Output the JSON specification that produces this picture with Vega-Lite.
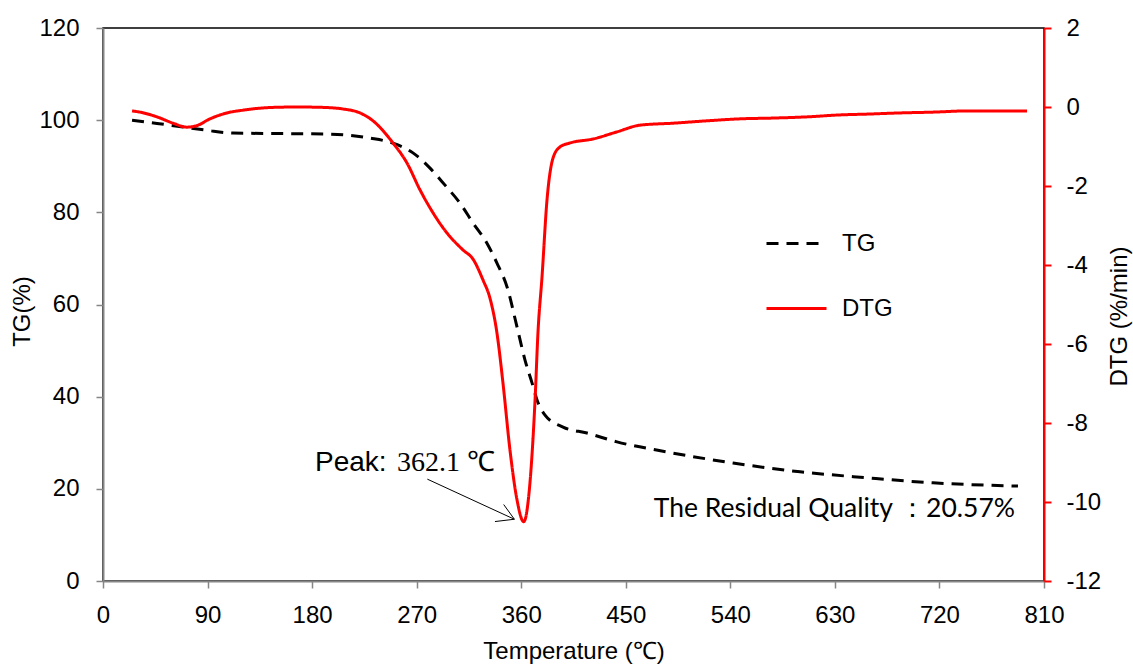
{
  "$schema": "https://vega.github.io/schema/vega-lite/v6.json",
  "width": 941,
  "height": 553,
  "autosize": {"type": "none"},
  "padding": {"left": 103, "top": 28, "right": 89, "bottom": 83},
  "background": "white",
  "config": {
    "view": {"stroke": "black", "strokeWidth": 1.5},
    "font": "Liberation Sans",
    "axis": {
      "labelFont": "Liberation Sans",
      "titleFont": "Liberation Sans",
      "labelFontSize": 24,
      "titleFontSize": 24,
      "titleFontWeight": "normal",
      "labelColor": "black",
      "titleColor": "black",
      "grid": false
    }
  },
  "datasets": {
    "curves": [
      {"series": "TG", "T": 25.0, "v": 100.0},
      {"series": "TG", "T": 46.5, "v": 99.3},
      {"series": "TG", "T": 68.9, "v": 98.5},
      {"series": "TG", "T": 89.5, "v": 97.8},
      {"series": "TG", "T": 111.9, "v": 97.2},
      {"series": "TG", "T": 146.3, "v": 97.1},
      {"series": "TG", "T": 189.4, "v": 97.0},
      {"series": "TG", "T": 212.6, "v": 96.7},
      {"series": "TG", "T": 229.8, "v": 96.1},
      {"series": "TG", "T": 249.6, "v": 95.0},
      {"series": "TG", "T": 266.8, "v": 92.9},
      {"series": "TG", "T": 281.5, "v": 89.6},
      {"series": "TG", "T": 294.4, "v": 85.9},
      {"series": "TG", "T": 307.3, "v": 82.0},
      {"series": "TG", "T": 318.5, "v": 77.7},
      {"series": "TG", "T": 330.5, "v": 73.3},
      {"series": "TG", "T": 339.1, "v": 69.0},
      {"series": "TG", "T": 347.8, "v": 63.8},
      {"series": "TG", "T": 356.4, "v": 55.1},
      {"series": "TG", "T": 363.2, "v": 48.0},
      {"series": "TG", "T": 369.3, "v": 43.0},
      {"series": "TG", "T": 373.6, "v": 39.3},
      {"series": "TG", "T": 380.5, "v": 36.0},
      {"series": "TG", "T": 396.0, "v": 33.4},
      {"series": "TG", "T": 416.6, "v": 32.1},
      {"series": "TG", "T": 442.4, "v": 30.2},
      {"series": "TG", "T": 485.5, "v": 28.0},
      {"series": "TG", "T": 542.3, "v": 25.6},
      {"series": "TG", "T": 600.0, "v": 23.7},
      {"series": "TG", "T": 657.6, "v": 22.4},
      {"series": "TG", "T": 714.4, "v": 21.3},
      {"series": "TG", "T": 787.6, "v": 20.6},
      {"series": "DTG", "T": 25.0, "v": -0.10},
      {"series": "DTG", "T": 31.8, "v": -0.13},
      {"series": "DTG", "T": 46.5, "v": -0.25},
      {"series": "DTG", "T": 60.3, "v": -0.41},
      {"series": "DTG", "T": 72.3, "v": -0.51},
      {"series": "DTG", "T": 80.9, "v": -0.47},
      {"series": "DTG", "T": 92.1, "v": -0.30},
      {"series": "DTG", "T": 106.7, "v": -0.15},
      {"series": "DTG", "T": 120.5, "v": -0.08},
      {"series": "DTG", "T": 146.3, "v": -0.01},
      {"series": "DTG", "T": 167.0, "v": 0.0},
      {"series": "DTG", "T": 189.4, "v": -0.01},
      {"series": "DTG", "T": 206.6, "v": -0.05},
      {"series": "DTG", "T": 221.2, "v": -0.15},
      {"series": "DTG", "T": 232.4, "v": -0.35},
      {"series": "DTG", "T": 249.6, "v": -0.91},
      {"series": "DTG", "T": 261.7, "v": -1.42},
      {"series": "DTG", "T": 272.9, "v": -2.10},
      {"series": "DTG", "T": 284.1, "v": -2.68},
      {"series": "DTG", "T": 296.1, "v": -3.19},
      {"series": "DTG", "T": 309.9, "v": -3.62},
      {"series": "DTG", "T": 318.5, "v": -3.85},
      {"series": "DTG", "T": 327.1, "v": -4.38},
      {"series": "DTG", "T": 333.1, "v": -4.84},
      {"series": "DTG", "T": 339.1, "v": -5.72},
      {"series": "DTG", "T": 344.3, "v": -6.99},
      {"series": "DTG", "T": 350.3, "v": -8.68},
      {"series": "DTG", "T": 356.4, "v": -9.95},
      {"series": "DTG", "T": 362.1, "v": -10.5},
      {"series": "DTG", "T": 367.5, "v": -9.52},
      {"series": "DTG", "T": 371.9, "v": -7.42},
      {"series": "DTG", "T": 374.4, "v": -5.72},
      {"series": "DTG", "T": 377.9, "v": -4.30},
      {"series": "DTG", "T": 382.2, "v": -2.35},
      {"series": "DTG", "T": 387.4, "v": -1.29},
      {"series": "DTG", "T": 393.4, "v": -1.01},
      {"series": "DTG", "T": 402.0, "v": -0.91},
      {"series": "DTG", "T": 421.8, "v": -0.81},
      {"series": "DTG", "T": 442.4, "v": -0.63},
      {"series": "DTG", "T": 462.2, "v": -0.46},
      {"series": "DTG", "T": 490.6, "v": -0.41},
      {"series": "DTG", "T": 519.9, "v": -0.35},
      {"series": "DTG", "T": 548.3, "v": -0.30},
      {"series": "DTG", "T": 576.7, "v": -0.28},
      {"series": "DTG", "T": 606.0, "v": -0.25},
      {"series": "DTG", "T": 634.4, "v": -0.20},
      {"series": "DTG", "T": 657.6, "v": -0.18},
      {"series": "DTG", "T": 686.0, "v": -0.15},
      {"series": "DTG", "T": 714.4, "v": -0.13},
      {"series": "DTG", "T": 743.7, "v": -0.10},
      {"series": "DTG", "T": 772.1, "v": -0.10},
      {"series": "DTG", "T": 795.4, "v": -0.10}
    ],
    "arrow": [
      {"T": 279.2, "v": 22.1, "T2": 354.1, "v2": 13.4},
      {"T": 344.9, "v": 16.6, "T2": 354.1, "v2": 13.4},
      {"T": 337.4, "v": 12.9, "T2": 354.1, "v2": 13.4}
    ],
    "notes": [
      {"T": 182.5, "v": 23.9, "label": "Peak:", "kind": "peak"},
      {"T": 253.1, "v": 23.9, "label": "362.1 ℃", "kind": "num"},
      {"T": 785.1, "v": 13.9, "label": "The Residual Quality ：20.57%", "kind": "res"}
    ]
  },
  "layer": [
    {
      "layer": [
        {
          "data": {"name": "curves"},
          "transform": [{"filter": "datum.series === 'TG'"}],
          "mark": {"type": "line", "strokeWidth": 3, "interpolate": "monotone", "strokeCap": "butt"},
          "encoding": {
            "x": {
              "field": "T", "type": "quantitative",
              "scale": {"domain": [0, 810], "nice": false, "zero": false},
              "axis": {
                "title": "Temperature (℃)",
                "values": [0, 90, 180, 270, 360, 450, 540, 630, 720, 810],
                "domainColor": "#868686", "domainWidth": 2,
                "tickColor": "#868686", "tickWidth": 1.5, "tickSize": 7,
                "labelPadding": 15, "labelFlush": false, "labelOverlap": false,
                "titleY": 70, "titleBaseline": "middle"
              }
            },
            "y": {
              "field": "v", "type": "quantitative",
              "scale": {"domain": [0, 120], "nice": false, "zero": false},
              "axis": {
                "title": "TG(%)",
                "values": [0, 20, 40, 60, 80, 100, 120],
                "domainColor": "#868686", "domainWidth": 2,
                "tickColor": "#868686", "tickWidth": 1.5, "tickSize": 7,
                "labelPadding": 17, "labelFlush": false, "labelOverlap": false,
                "titleX": -81, "titleY": 283, "titleBaseline": "middle", "titleAngle": 270
              }
            },
            "color": {
              "field": "series", "type": "nominal",
              "scale": {"domain": ["TG", "DTG"], "range": ["black", "#ff0000"]},
              "legend": {
                "title": null, "orient": "none", "legendX": 662, "legendY": 184,
                "direction": "vertical", "symbolType": "stroke", "symbolSize": 3600,
                "symbolStrokeWidth": 3, "labelFontSize": 24, "labelFont": "Liberation Sans",
                "labelColor": "black", "rowPadding": 21, "labelOffset": 14, "padding": 0
              }
            },
            "strokeDash": {
              "field": "series", "type": "nominal",
              "scale": {"domain": ["TG", "DTG"], "range": [[12, 8], [1, 0]]},
              "legend": {
                "title": null, "orient": "none", "legendX": 662, "legendY": 184,
                "direction": "vertical", "symbolType": "stroke", "symbolSize": 3600,
                "symbolStrokeWidth": 3, "labelFontSize": 24, "labelFont": "Liberation Sans",
                "labelColor": "black", "rowPadding": 21, "labelOffset": 14, "padding": 0
              }
            }
          }
        },
        {
          "data": {"name": "arrow"},
          "mark": {"type": "rule", "color": "black", "strokeWidth": 1},
          "encoding": {
            "x": {"field": "T", "type": "quantitative"},
            "y": {"field": "v", "type": "quantitative"},
            "x2": {"field": "T2"},
            "y2": {"field": "v2"}
          }
        },
        {
          "data": {"name": "notes"},
          "transform": [{"filter": "datum.kind === 'peak'"}],
          "mark": {"type": "text", "align": "left", "baseline": "alphabetic", "font": "Liberation Sans", "fontSize": 28, "color": "black"},
          "encoding": {
            "x": {"field": "T", "type": "quantitative"},
            "y": {"field": "v", "type": "quantitative"},
            "text": {"field": "label"}
          }
        },
        {
          "data": {"name": "notes"},
          "transform": [{"filter": "datum.kind === 'num'"}],
          "mark": {"type": "text", "align": "left", "baseline": "alphabetic", "font": "Liberation Serif", "fontSize": 28, "color": "black"},
          "encoding": {
            "x": {"field": "T", "type": "quantitative"},
            "y": {"field": "v", "type": "quantitative"},
            "text": {"field": "label"}
          }
        },
        {
          "data": {"name": "notes"},
          "transform": [{"filter": "datum.kind === 'res'"}],
          "mark": {"type": "text", "align": "right", "baseline": "alphabetic", "font": "Lato", "fontSize": 26.5, "color": "black"},
          "encoding": {
            "x": {"field": "T", "type": "quantitative"},
            "y": {"field": "v", "type": "quantitative"},
            "text": {"field": "label"}
          }
        }
      ]
    },
    {
      "data": {"name": "curves"},
      "transform": [{"filter": "datum.series === 'DTG'"}],
      "mark": {"type": "line", "strokeWidth": 3, "interpolate": "monotone"},
      "encoding": {
        "x": {"field": "T", "type": "quantitative"},
        "y": {
          "field": "v", "type": "quantitative",
          "scale": {"domain": [-12, 2], "nice": false, "zero": false},
          "axis": {
            "orient": "right",
            "title": "DTG (%/min)",
            "values": [-12, -10, -8, -6, -4, -2, 0, 2],
            "labelExpr": "'' + datum.value",
            "domainColor": "#ff0000", "domainWidth": 2,
            "tickColor": "#ff0000", "tickWidth": 2, "tickSize": 7,
            "labelPadding": 15, "labelFlush": false, "labelOverlap": false,
            "titleX": 75, "titleY": 288, "titleBaseline": "middle", "titleAngle": 270
          }
        },
        "color": {"field": "series", "type": "nominal"},
        "strokeDash": {"field": "series", "type": "nominal"}
      }
    }
  ],
  "resolve": {"scale": {"y": "independent"}}
}
